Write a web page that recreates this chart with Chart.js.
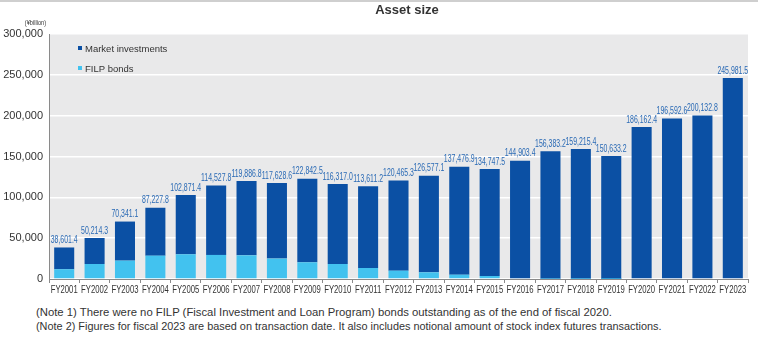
<!DOCTYPE html>
<html>
<head>
<meta charset="utf-8">
<script src="https://cdn.jsdelivr.net/npm/chart.js@4/dist/chart.umd.min.js"></script>
<style>
  body { margin: 0; background: #fff; width: 758px; height: 341px; overflow: hidden; position: relative; font-family: "Liberation Sans", Arial, sans-serif; }
  #topline { position: absolute; left: 0; top: 0; width: 758px; height: 2px; background: #cfcfcf; }
  #title { position: absolute; left: 0; width: 758px; top: 2px; text-align: center; font-size: 13px; font-weight: bold; color: #333; padding-left: 56px; box-sizing: border-box; }
  #wrap { position: absolute; left: 0; top: 0; width: 758px; height: 300px; }
  .note { position: absolute; left: 36px; font-size: 10.5px; color: #333; white-space: nowrap; transform-origin: left top; }
</style>
</head>
<body>
<div id="wrap"><canvas id="myChart" width="758" height="300"></canvas></div>
<div id="topline"></div>
<div id="title">Asset size</div>
<div class="note" id="n1" style="top:306px">(Note 1) There were no FILP (Fiscal Investment and Loan Program) bonds outstanding as of the end of fiscal 2020.</div>
<div class="note" id="n2" style="top:320px">(Note 2) Figures for fiscal 2023 are based on transaction date. It also includes notional amount of stock index futures transactions.</div>
<script>
// fiscal years
var years = ["FY2001","FY2002","FY2003","FY2004","FY2005","FY2006","FY2007","FY2008","FY2009","FY2010","FY2011","FY2012",
             "FY2013","FY2014","FY2015","FY2016","FY2017","FY2018","FY2019","FY2020","FY2021","FY2022","FY2023"];
// total asset size (labels above bars), ¥billion
var totals = [38601.4, 50214.3, 70341.1, 87227.8, 102871.4, 114527.8, 119886.8, 117628.6, 122842.5, 116317.0, 113611.2, 120465.3,
              126577.1, 137476.9, 134747.5, 144903.4, 156383.2, 159215.4, 150633.2, 186162.4, 196592.6, 200132.8, 245981.5];
// FILP bonds part
var filpBonds = [12000, 18400, 22500, 28600, 30300, 29500, 29000, 25000, 20500, 18400, 13500, 10200,
                 8200, 5300, 3700, 1000, 300, 200, 100, 0, 0, 0, 0];
// market investments = rest of the total
var marketInv = totals.map(function(t, i) { return Math.round((t - filpBonds[i]) * 10) / 10; });
var yTicks = [0, 50000, 100000, 150000, 200000, 250000, 300000];

var darkBlue = "#0b50a4";
var lightBlue = "#42c2ef";
var sans = "'Liberation Sans', Arial, sans-serif";

// squeeze notes to the narrow look of the original
function squeeze(id, w) {
    var el = document.getElementById(id);
    el.style.transform = "scaleX(" + (w / el.offsetWidth) + ")";
}
squeeze("n1", 576);
squeeze("n2", 626);

// narrow text helper
function narrowText(c, txt, x, y, sx) {
    c.save();
    c.translate(x, y);
    c.scale(sx, 1);
    c.fillText(txt, 0, 0);
    c.restore();
}

var extras = {
    id: 'extras',
    beforeDraw: function(chart) {
        var c = chart.ctx, a = chart.chartArea;
        c.save();
        c.fillStyle = "#e9e9ea";
        c.fillRect(a.left, a.top, a.right - a.left, a.bottom - a.top);
        c.restore();
    },
    afterDatasetsDraw: function(chart) {
        var c = chart.ctx, a = chart.chartArea;
        var meta = chart.getDatasetMeta(1);
        var xs = chart.scales.x;
        c.save();
        // totals over the bars
        c.fillStyle = "#2a6ab5";
        c.font = "10.5px " + sans;
        c.textAlign = "center";
        c.textBaseline = "bottom";
        meta.data.forEach(function(bar, i) {
            var s = totals[i].toLocaleString("en-US", {minimumFractionDigits: 1, maximumFractionDigits: 1});
            narrowText(c, s, bar.x, bar.y - 2, 0.66);
        });
        // category labels
        c.fillStyle = "#333";
        c.font = "11px " + sans;
        c.textBaseline = "middle";
        years.forEach(function(y, i) {
            narrowText(c, y, xs.getPixelForValue(i), a.bottom + 11, 0.70);
        });
        // unit
        c.font = "7px " + sans;
        c.textAlign = "right";
        narrowText(c, "(¥billion)", 46, 23, 0.8);
        // legend
        c.font = "9.5px " + sans;
        c.textAlign = "left";
        c.fillStyle = darkBlue;
        c.fillRect(78, 46, 4, 4);
        c.fillStyle = lightBlue;
        c.fillRect(78, 66, 4, 4);
        c.fillStyle = "#333";
        c.fillText("Market investments", 85, 49);
        c.fillText("FILP bonds", 85, 69);
        c.restore();
    }
};

var ctx = document.getElementById("myChart");
var myChart = new Chart(ctx, {
    type: 'bar',
    data: {
        labels: years,
        datasets: [
            { label: "FILP bonds", data: filpBonds, backgroundColor: lightBlue, barPercentage: 0.66, categoryPercentage: 1 },
            { label: "Market investments", data: marketInv, backgroundColor: darkBlue, barPercentage: 0.66, categoryPercentage: 1 }
        ]
    },
    options: {
        responsive: false,
        animation: false,
        layout: { padding: { top: 34, right: 10, left: 0, bottom: 0 } },
        plugins: { legend: { display: false }, tooltip: { enabled: false } },
        scales: {
            x: {
                stacked: true,
                grid: { offset: true, drawOnChartArea: false, tickLength: 4, color: "#8a8a8a" },
                border: { color: "#8a8a8a" },
                ticks: { display: false },
                afterFit: function(s) { s.height = 21; }
            },
            y: {
                stacked: true,
                min: 0, max: 300000,
                afterBuildTicks: function(s) { s.ticks = yTicks.map(function(v) { return { value: v }; }); },
                grid: { color: "#ffffff", lineWidth: 1.5, drawTicks: false },
                border: { color: "#8a8a8a" },
                ticks: { color: "#333", font: { family: sans, size: 11 }, padding: 6,
                         callback: function(v) { return v.toLocaleString("en-US"); } },
                afterFit: function(s) { s.width = 49; }
            }
        }
    },
    plugins: [extras]
});
</script>
</body>
</html>
